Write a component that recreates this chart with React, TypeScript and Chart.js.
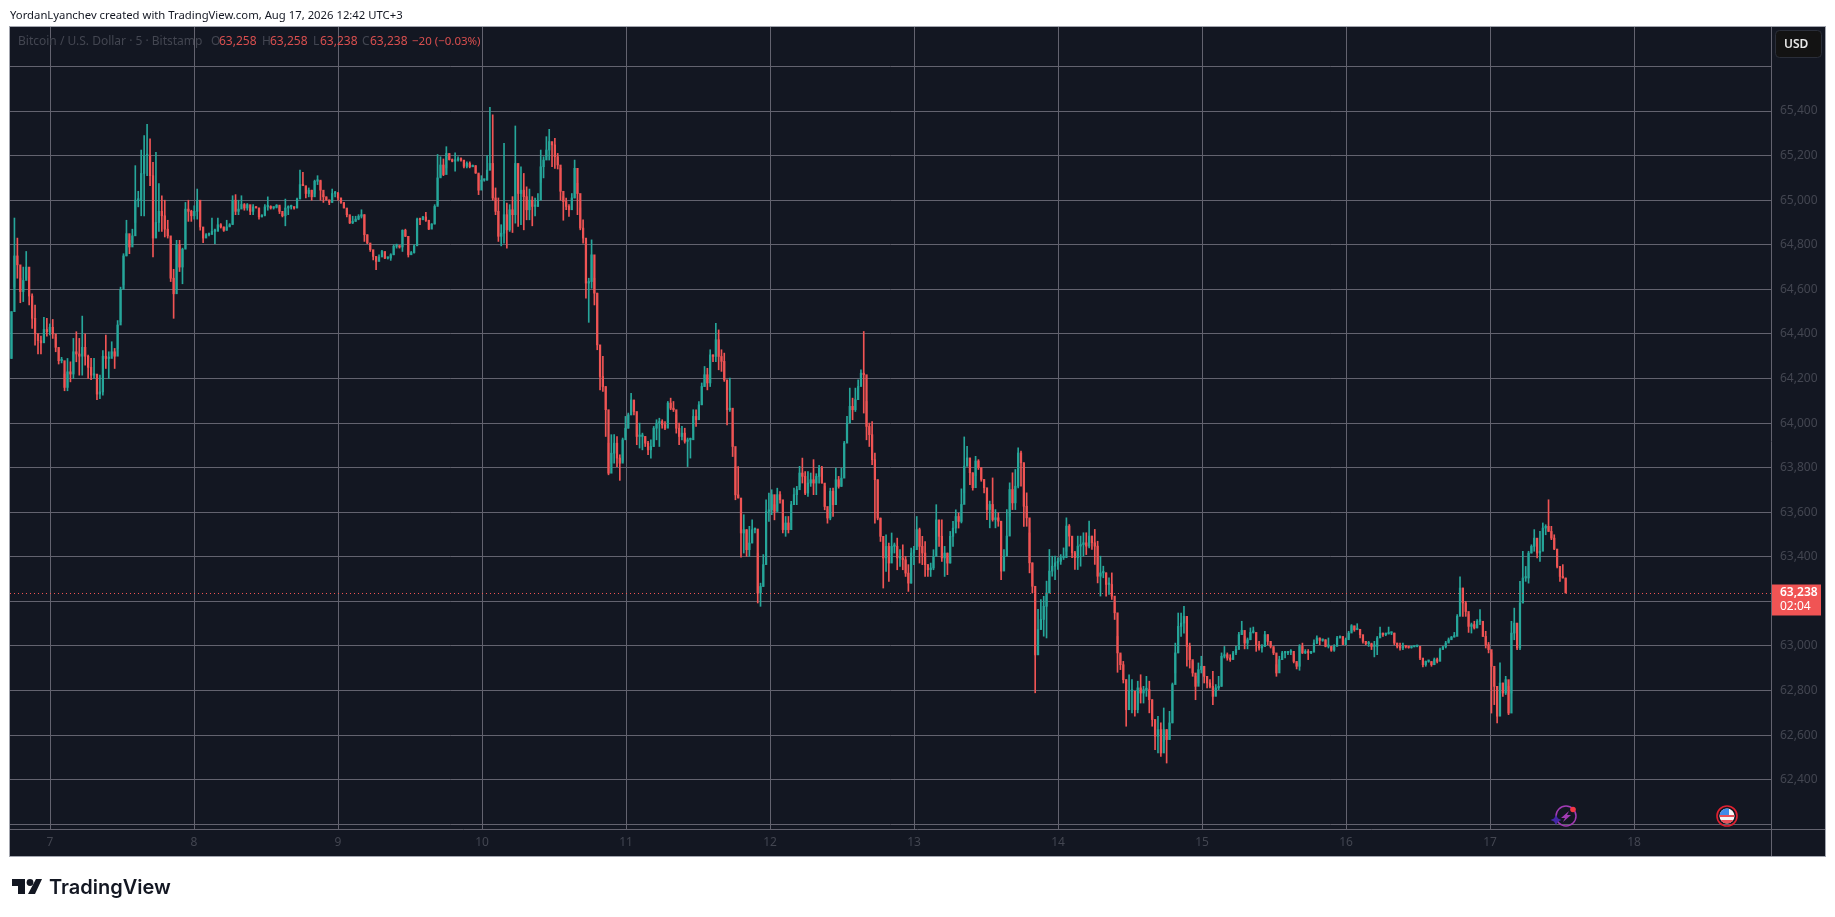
import React, { useEffect, useRef } from "react";
import { Chart, registerables } from "chart.js";

Chart.register(...registerables);

// Every row: [high, low, close]; the open of a bar is the close before it.
const barsAug6to8 = [
[64500,64290,64500],[64920,64610,64750],[64830,64650,64710],[64650,64540,64590],[64700,64545,64640],[64770,64650,64700],[64655,64530,64570],[64580,64425,64470],[64530,64350,64400],[64400,64310,64370],[64390,64310,64360],[64475,64385,64420],[64470,64390,64410],[64445,64395,64430],[64465,64380,64400],[64385,64320,64340],[64335,64265,64280],[64295,64270,64280],[64220,64145,64160],[64290,64145,64230],[64275,64185,64220],[64380,64200,64320],[64410,64275,64310],[64380,64215,64300],[64480,64215,64340],[64400,64260,64300],[64305,64200,64250],[64290,64195,64215],[64290,64200,64220],[64190,64105,64130],[64215,64110,64140],[64325,64125,64300],[64395,64245,64290],[64320,64200,64290],[64365,64310,64320],[64335,64245,64300],[64460,64335,64440],[64610,64455,64600],[64760,64620,64750],[64910,64750,64850],[64820,64760,64790],[64870,64810,64840],[65155,64900,65000],[65040,64970,65000],[65225,64930,65120],[65290,64930,65200],[65340,65110,65200],[65275,65065,65110],[65170,64745,64830],[65215,64870,64900],[65075,64860,64950],[65020,64860,64930],[65000,64835,64870],[64910,64830,64840],[64820,64635,64650],[64690,64470,64580],[64820,64600,64800],[64820,64680,64700],[64785,64625,64780],[64990,64785,64960],[65000,64905,64950],[64955,64905,64930],[64975,64915,64950],[65050,64915,65000],[64910,64865,64880],[64855,64810,64830],[64850,64840,64845],[64852,64840,64846],[64920,64850,64860],[64870,64805,64860],[64920,64870,64890],[64895,64875,64880],[64880,64860,64865],[64910,64865,64880],[64895,64885,64890],[65020,64895,65000],[65025,64935,64950],[65000,64935,64960],
];
const barsAug8to10 = [
[65020,64980,64980],[64985,64955,64965],[64985,64955,64980],[64960,64935,64950],[64980,64935,64970],[64970,64965,64965],[64965,64915,64925],[64935,64925,64932],[64980,64930,64970],[65015,64955,64970],[64975,64960,64965],[64970,64960,64968],[64980,64965,64978],[64970,64940,64950],[64940,64925,64930],[65005,64885,64965],[64975,64935,64970],[64978,64960,64970],[64968,64960,64965],[65010,64965,65005],[65135,65015,65070],[65125,65065,65065],[65058,65010,65030],[65055,65015,65045],[65045,65000,65015],[65090,65030,65085],[65110,65070,65090],[65085,65000,65045],[65025,64990,65015],[65015,65000,65002],[64995,64980,64990],[65050,64990,65030],[65040,65015,65030],[65035,65000,65010],[65010,64985,64990],[64985,64965,64965],[64955,64925,64935],[64920,64895,64898],[64928,64895,64905],[64928,64905,64915],[64935,64912,64928],[64957,64920,64935],[64935,64815,64845],[64845,64805,64808],[64800,64770,64778],[64770,64732,64748],[64740,64688,64725],[64755,64735,64745],[64775,64760,64770],[64765,64738,64740],[64742,64736,64740],[64760,64730,64755],[64800,64755,64793],[64803,64785,64793],[64795,64785,64790],[64867,64770,64865],[64870,64837,64838],[64838,64745,64755],[64770,64760,64765],[64800,64762,64795],[64920,64800,64915],[64920,64890,64912],[64928,64915,64925],[64945,64905,64910],[64910,64868,64870],[64895,64888,64893],[64980,64893,64972],[65205,64980,65100],[65195,65105,65158],[65185,65110,65115],[65240,65145,65210],[65205,65180,65182],[65185,65172,65175],[65213,65130,65180],[65195,65175,65185],[65190,65175,65180],[65165,65145,65152],[65172,65145,65165],[65172,65145,65150],[65158,65150,65155],[65155,65120,65122],[65115,65025,65045],
];
const barsAug10to11 = [
[65110,65085,65090],[65093,65085,65090],[65200,65090,65135],[65417,65135,65165],[65383,65000,65010],[65055,64935,64950],[65010,64815,64838],[64890,64795,64852],[65255,64807,64935],[64987,64785,64867],[64980,64860,64957],[65016,64855,64935],[65333,64897,65165],[65090,64882,65030],[65150,64890,65045],[65120,64867,65016],[65060,64912,64957],[65050,64912,65000],[65016,64885,64972],[65010,64930,64972],[65030,64972,65000],[65225,65080,65150],[65195,65100,65180],[65285,65195,65225],[65318,65180,65263],[65255,65150,65248],[65278,65143,65195],[65210,65140,65158],[65143,65000,65040],[65016,64910,64994],[65010,64957,64972],[64980,64927,64957],[65030,64994,65010],[65180,65010,65143],[65076,64935,65030],[64965,64867,64875],[64912,64807,64830],[64792,64560,64628],[64650,64452,64635],[64822,64605,64755],[64650,64530,64583],[64583,64329,64351],[64306,64149,64209],[64300,64142,64164],[64164,63940,64060],[63910,63768,63775],[63948,63820,63865],[63948,63820,63910],[63940,63805,63843],[63858,63743,63820],[63933,63828,63925],[64030,63940,63977],[64045,63977,64037],[64134,64037,64104],[64097,64037,64052],[63985,63903,63940],[64000,63888,63940],[63955,63880,63940],[63940,63895,63910],[63918,63858,63880],[63925,63843,63895],[63985,63895,63977],[64015,63925,64000],[64022,63895,64007],[64015,63977,63992],[64007,63970,63977],[64097,64000,64090],[64112,64060,64067],[64097,64052,64060],[64037,63955,63977],[64000,63903,63940],[63985,63925,63955],[63977,63910,63918],[63933,63805,63925],[63933,63843,63925],[64060,63977,64030],[64060,63985,64015],[64097,64030,64082],[64180,64082,64164],[64254,64164,64217],[64246,64149,64180],[64329,64164,64306],[64306,64276,64299],[64448,64276,64374],[64418,64239,64299],
];
const barsAug11to13 = [
[64329,64232,64277],[64314,64187,64194],[64164,63992,64060],[64202,64052,64067],[64000,63850,63895],[63805,63656,63678],[63805,63664,63664],[63589,63399,63507],[63589,63417,63522],[63522,63402,63432],[63537,63402,63462],[63566,63462,63522],[63529,63507,63525],[63417,63193,63238],[63282,63178,63267],[63410,63267,63365],[63656,63410,63604],[63686,63559,63611],[63701,63589,63679],[63634,63566,63604],[63708,63604,63679],[63693,63641,63656],[63611,63507,63522],[63581,63492,63552],[63581,63507,63522],[63649,63559,63634],[63708,63634,63679],[63716,63634,63701],[63806,63716,63776],[63843,63731,63761],[63783,63679,63686],[63783,63671,63731],[63776,63716,63746],[63836,63679,63731],[63773,63679,63761],[63810,63731,63798],[63806,63731,63731],[63716,63611,63626],[63611,63551,63574],[63708,63566,63694],[63708,63581,63634],[63798,63701,63746],[63761,63708,63716],[63798,63716,63753],[63918,63791,63910],[64030,63918,64000],[64157,64022,64075],[64112,64015,64060],[64157,64052,64105],[64194,64105,64164],[64239,64202,64224],[64411,64045,64217],[64097,63925,63985],[64000,63895,63948],[64007,63813,63836],[63865,63551,63746],[63746,63566,63574],[63574,63469,63492],[63462,63260,63395],[63499,63335,63447],[63462,63290,63372],[63507,63417,63447],[63462,63417,63447],[63484,63342,63395],[63432,63357,63395],[63454,63342,63387],[63402,63312,63327],[63365,63245,63282],[63439,63282,63417],[63447,63365,63432],[63581,63447,63522],[63529,63372,63447],[63492,63365,63417],[63469,63312,63365],[63365,63312,63342],[63372,63312,63350],[63432,63342,63402],[63634,63477,63566],[63537,63447,63492],[63566,63380,63395],[63447,63312,63417],[63417,63320,63372],[63514,63372,63492],[63559,63447,63529],[63611,63507,63581],[63596,63529,63559],
];
const barsAug13to14 = [
[63705,63552,63635],[63938,63687,63807],[63896,63807,63844],[63807,63724,63777],[63777,63699,63710],[63851,63764,63830],[63836,63792,63800],[63800,63739,63747],[63747,63687,63710],[63672,63567,63612],[63650,63530,63635],[63754,63560,63567],[63612,63530,63575],[63597,63537,63560],[63433,63298,63336],[63433,63388,63403],[63612,63410,63493],[63732,63582,63702],[63777,63612,63642],[63792,63612,63717],[63889,63709,63866],[63874,63717,63822],[63822,63537,63627],[63687,63537,63575],[63507,63328,63373],[63373,63238,63268],[63253,62790,62960],[63164,63029,63074],[63208,63074,63119],[63223,63044,63178],[63291,63036,63238],[63433,63238,63336],[63403,63313,63358],[63403,63298,63373],[63396,63343,63380],[63410,63366,63396],[63440,63388,63396],[63575,63425,63538],[63545,63448,63493],[63463,63396,63418],[63425,63343,63396],[63493,63343,63448],[63493,63358,63455],[63508,63403,63463],[63508,63410,63448],[63560,63440,63493],[63493,63433,63463],[63523,63366,63448],[63470,63283,63313],[63403,63224,63328],[63358,63306,63328],[63328,63224,63276],[63306,63231,63276],[63328,63209,63224],[63194,63119,63149],
];
const barsAug14to16 = [
[63043,62882,62969],[62961,62894,62916],[62931,62834,62849],[62849,62640,62714],[62871,62729,62797],[62849,62700,62797],[62774,62685,62714],[62842,62700,62812],[62871,62744,62789],[62819,62744,62804],[62864,62774,62804],[62842,62700,62759],[62759,62640,62670],[62670,62535,62595],[62685,62520,62625],[62655,62505,62520],[62722,62572,62625],[62625,62475,62580],[62707,62580,62655],[62834,62655,62827],[63013,62879,62969],[63148,62969,63088],[63148,63043,63103],[63178,63058,63133],[63066,62909,62998],[63013,62901,62939],[62931,62864,62879],[62864,62759,62819],[62924,62834,62894],[62954,62879,62909],[62909,62834,62864],[62856,62812,62834],[62849,62812,62819],[62886,62737,62774],[62827,62797,62812],[62864,62804,62819],[62969,62819,62954],[62998,62946,62961],[62969,62936,62946],[62961,62931,62939],[62976,62946,62969],[62998,62961,62984],[63061,62998,63051],[63111,63051,63070],[63043,62987,63013],[63036,62987,63028],[63081,63028,63061],[63085,63058,63061],[63058,62976,63006],[63021,62981,62991],[63006,62972,62998],[63066,62998,63051],[63051,63006,63021],[63013,62991,62998],[62991,62961,62969],[62916,62864,62879],[62954,62894,62939],[62976,62939,62969],[62976,62946,62969],[62976,62961,62972],[62984,62961,62976],[62961,62924,62931],[62924,62897,62909],[63006,62891,62998],[63013,62966,62969],[62984,62966,62976],[62984,62939,62969],[62976,62966,62972],[63028,62976,63013],[63046,63010,63036],[63036,63006,63025],[63031,63021,63028],[63028,62996,62998],[63036,62991,62998],[62998,62976,62981],[63006,62976,62998],[63043,63006,63036],[63046,63036,63043],[63010,63006,63007],[63036,63006,63028],[63066,63036,63058],
];
const barsAug16to17 = [
[63096,63066,63091],[63088,63066,63073],[63100,63073,63075],[63066,63036,63051],[63043,63013,63021],[63013,63006,63010],[63021,62998,63010],[63013,62984,62998],[63021,62951,62998],[63043,62961,63036],[63085,63043,63058],[63058,63043,63051],[63058,63046,63054],[63085,63054,63058],[63061,63051,63058],[63058,63006,63013],[63013,62991,62998],[63013,62981,62991],[63013,62984,62998],[63001,62991,62996],[62998,62990,62993],[62998,62990,62996],[63001,62996,62998],[63001,62996,62998],[62998,62939,62946],[62942,62906,62916],[62933,62909,62931],[62934,62927,62931],[62927,62909,62916],[62946,62916,62939],[62946,62924,62931],[62991,62936,62984],[62998,62987,62996],[63021,62991,63013],[63036,63021,63028],[63043,63031,63040],[63061,63040,63043],[63141,63066,63133],[63310,63223,63260],[63260,63133,63193],[63200,63133,63155],[63141,63061,63088],[63103,63058,63096],[63111,63076,63081],[63118,63081,63111],[63163,63096,63111],[63103,63043,63043],[63066,62991,63006],[63016,62969,62984],[62969,62699,62909],[62901,62737,62819],[62752,62655,62685],[62924,62729,62834],[62834,62774,62789],[62864,62782,62849],[62819,62692,62699],[63111,62789,63058],[63170,63028,63103],[63066,62984,62991],[63290,62984,63193],[63425,63193,63305],[63357,63290,63305],[63425,63282,63417],[63454,63417,63447],[63522,63425,63484],[63477,63395,63417],[63514,63380,63425],[63552,63454,63529],[63544,63499,63537],[63656,63514,63514],[63537,63477,63484],[63499,63432,63435],[63432,63350,63357],[63357,63290,63312],[63365,63305,63305],[63305,63238,63238],
];
const barGroups = [barsAug6to8, barsAug8to10, barsAug10to11, barsAug11to13, barsAug13to14, barsAug14to16, barsAug16to17];
// Day-of-month boundaries of each group of bars.
const groupEdges = [6.722, 8.319, 9.986, 11.653, 13.319, 14.403, 16.028, 17.535];

const dayMin = 6.722;
const dayMax = 18.951;
const dayTicks = [7, 8, 9, 10, 11, 12, 13, 14, 15, 16, 17, 18];
const priceMin = 62179;
const priceMax = 65777;
const priceTicks = [62200, 62400, 62600, 62800, 63000, 63200, 63400, 63600, 63800, 64000, 64200, 64400, 64600, 64800, 65000, 65200, 65400, 65600];
const unlabelledPrices = [65600, 63200, 62200];
const lastPrice = 63238;
const lastPriceLabel = "63,238";
const countdownLabel = "02:04";
const headerText = "YordanLyanchev created with TradingView.com, Aug 17, 2026 12:42 UTC+3";
const symbolText = "Bitcoin / U.S. Dollar · 5 · Bitstamp";
const ohlcLetters = ["O", "H", "L", "C"];
const ohlcValues = ["63,258", "63,258", "63,238", "63,238"];
const changeText = "−20 (−0.03%)";

const UP = "#26a69a";
const DOWN = "#f05454";
const PANEL = "#131722";
const GRID = "#63636f";
const DIM = "#434651";
const FONT = '"Noto Sans", sans-serif';

const wicks: any[] = [];
const bodies: any[] = [];
const colours: string[] = [];
let previous = barGroups[0][0][1];
barGroups.forEach((group, g) => {
  const step = (groupEdges[g + 1] - groupEdges[g]) / group.length;
  group.forEach(([high, low, close], k) => {
    const x = groupEdges[g] + (k + 0.5) * step;
    wicks.push({ x, y: [low, high] });
    bodies.push({ x, y: [previous, close] });
    colours.push(close >= previous ? UP : DOWN);
    previous = close;
  });
});

const decor = {
  id: "decor",
  beforeDraw(chart: any) {
    const c = chart.ctx;
    const a = chart.chartArea;
    c.save();
    c.fillStyle = PANEL;
    c.fillRect(a.left, a.top, chart.width - 10 - a.left, chart.height - 61 - a.top);
    c.restore();
  },
  afterDraw(chart: any) {
    const c = chart.ctx;
    const a = chart.chartArea;
    const right = chart.width - 10;
    const bottom = chart.height - 61;
    const py = Math.round(chart.scales.y.getPixelForValue(lastPrice)) + 0.5;
    c.save();
    // last price line
    c.strokeStyle = DOWN;
    c.lineWidth = 1;
    c.setLineDash([1, 3]);
    c.beginPath();
    c.moveTo(a.left, py);
    c.lineTo(a.right, py);
    c.stroke();
    c.setLineDash([]);
    // frame and separators
    c.strokeStyle = "#a3a6af";
    c.strokeRect(a.left - 0.5, a.top - 0.5, right - a.left + 1, bottom - a.top + 1);
    c.strokeStyle = GRID;
    c.beginPath();
    c.moveTo(a.right + 0.5, a.top);
    c.lineTo(a.right + 0.5, bottom);
    c.moveTo(a.left, a.bottom + 0.5);
    c.lineTo(right, a.bottom + 0.5);
    c.stroke();
    // price tag
    c.fillStyle = DOWN;
    c.fillRect(a.right + 1, py - 9, 49, 31);
    c.fillStyle = "#ffffff";
    c.textBaseline = "middle";
    c.textAlign = "left";
    c.font = `600 12px ${FONT}`;
    c.fillText(lastPriceLabel, a.right + 9, py - 1);
    c.font = `12px ${FONT}`;
    c.fillText(countdownLabel, a.right + 9, py + 13);
    // legend
    c.font = `12px ${FONT}`;
    c.fillStyle = DIM;
    c.fillText(symbolText, 18, 41.5);
    const letterX = [211, 262, 313, 362];
    const valueX = [219, 270, 320, 370];
    ohlcLetters.forEach((t, i) => {
      c.fillStyle = DIM;
      c.fillText(t, letterX[i], 41.5);
      c.fillStyle = "#d94f4f";
      c.fillText(ohlcValues[i], valueX[i], 41.5);
    });
    c.font = `11.5px ${FONT}`;
    c.fillText(changeText, 412, 41.5);
    // currency button
    c.beginPath();
    c.roundRect(1775.5, 30.5, 46, 27, 4);
    c.fillStyle = "#131313";
    c.fill();
    c.strokeStyle = "#2a2e39";
    c.stroke();
    c.fillStyle = "#e8e8e8";
    c.font = `600 12px ${FONT}`;
    c.fillText("USD", 1784, 44.5);
    // event marker: lightning
    c.lineWidth = 1.5;
    c.strokeStyle = "#a23bb5";
    c.beginPath();
    c.arc(1566, 816, 10, 0, Math.PI * 2);
    c.stroke();
    c.fillStyle = "#a23bb5";
    c.beginPath();
    c.moveTo(1569, 811);
    c.lineTo(1561, 818);
    c.lineTo(1565, 818);
    c.lineTo(1563, 822);
    c.lineTo(1571, 815);
    c.lineTo(1567, 815);
    c.closePath();
    c.fill();
    c.fillStyle = "#f23645";
    c.beginPath();
    c.arc(1573, 809.5, 2.8, 0, Math.PI * 2);
    c.fill();
    c.fillStyle = "#4527a8";
    c.beginPath();
    c.moveTo(1556, 815);
    c.lineTo(1558, 818.5);
    c.lineTo(1561.5, 820);
    c.lineTo(1558, 821.5);
    c.lineTo(1556, 825);
    c.lineTo(1554, 821.5);
    c.lineTo(1550.5, 820);
    c.lineTo(1554, 818.5);
    c.closePath();
    c.fill();
    // event marker: US flag
    c.strokeStyle = "#e02030";
    c.lineWidth = 1.6;
    c.beginPath();
    c.arc(1727, 816, 10, 0, Math.PI * 2);
    c.stroke();
    c.save();
    c.beginPath();
    c.arc(1727, 816, 7.5, 0, Math.PI * 2);
    c.clip();
    c.fillStyle = "#f5f5f5";
    c.fillRect(1719, 808, 16, 16);
    c.fillStyle = "#e8505a";
    c.fillRect(1719, 815, 16, 2);
    c.fillRect(1719, 820, 16, 4);
    c.fillStyle = "#3f8bea";
    c.fillRect(1719, 808, 10, 7);
    c.restore();
    // TradingView mark
    c.fillStyle = "#131722";
    c.fillRect(12, 879, 13, 7);
    c.fillRect(18, 879, 7, 15);
    c.beginPath();
    c.arc(30, 882.5, 3.4, 0, Math.PI * 2);
    c.fill();
    c.beginPath();
    c.moveTo(36, 879);
    c.lineTo(42, 879);
    c.lineTo(35, 894);
    c.lineTo(28, 894);
    c.closePath();
    c.fill();
    c.restore();
  },
};

export default function App() {
  const ref = useRef<HTMLCanvasElement>(null);
  useEffect(() => {
    document.body.style.margin = "0";
    const chart = new Chart(ref.current!, {
      type: "bar",
      data: {
        datasets: [
          { data: wicks, backgroundColor: colours, barThickness: 1, grouped: false, order: 2 } as any,
          { data: bodies, backgroundColor: colours, barThickness: 1.6, grouped: false, minBarLength: 1.5, order: 1 } as any,
        ],
      },
      options: {
        responsive: false,
        animation: false,
        layout: { padding: { left: 10, top: 27, right: 10, bottom: 61 } },
        plugins: { legend: { display: false }, tooltip: { enabled: false } },
        scales: {
          x: {
            type: "linear",
            min: dayMin,
            max: dayMax,
            offset: false,
            afterFit: (s: any) => { s.height = 27; },
            afterBuildTicks: (s: any) => { s.ticks = dayTicks.map((value) => ({ value })); },
            grid: { color: GRID, lineWidth: 1, drawTicks: false, offset: false },
            border: { display: false },
            ticks: {
              autoSkip: false,
              maxRotation: 0,
              padding: 6,
              color: DIM,
              font: { family: FONT, size: 12 },
              callback: (v: any) => String(v),
            },
          },
          y: {
            type: "linear",
            position: "right",
            min: priceMin,
            max: priceMax,
            afterFit: (s: any) => { s.width = 54; },
            afterBuildTicks: (s: any) => { s.ticks = priceTicks.map((value) => ({ value })); },
            grid: { color: GRID, lineWidth: 1, drawTicks: false },
            border: { display: false },
            ticks: {
              autoSkip: false,
              padding: 9,
              color: DIM,
              font: { family: FONT, size: 12 },
              callback: (v: any) => (unlabelledPrices.includes(v) ? "" : Number(v).toLocaleString("en-US")),
            },
          },
        },
      } as any,
      plugins: [decor],
    });
    return () => chart.destroy();
  }, []);
  return (
    <div style={{ position: "relative", width: 1835, height: 917, background: "#fff", overflow: "hidden" }}>
      <canvas ref={ref} width={1835} height={917} style={{ display: "block" }} />
      <div style={{ position: "absolute", left: 10, top: 6, fontFamily: FONT, fontSize: 11.3, lineHeight: "18px", color: "#131722", whiteSpace: "nowrap" }}>{headerText}</div>
      <div style={{ position: "absolute", left: 49, top: 872, fontFamily: "Inter, sans-serif", fontWeight: 600, fontSize: 20, lineHeight: "30px", color: "#131722", whiteSpace: "nowrap" }}>TradingView</div>
    </div>
  );
}
